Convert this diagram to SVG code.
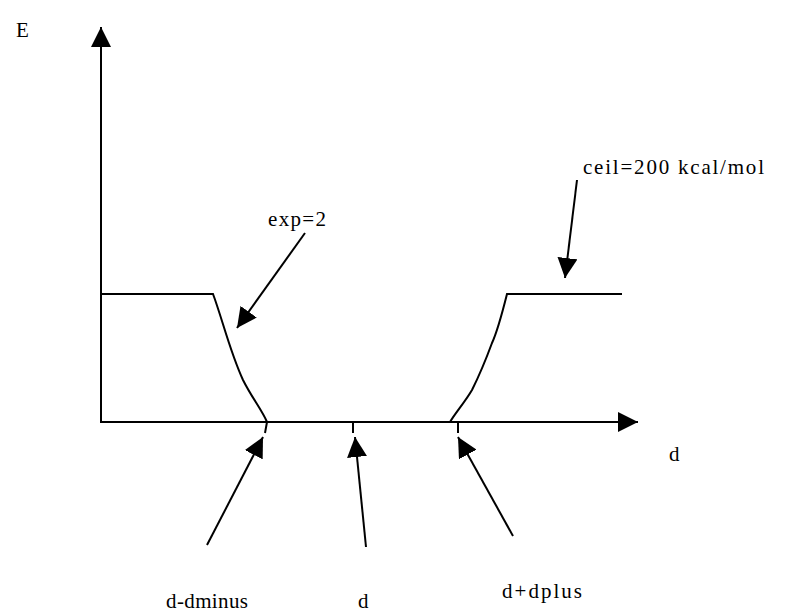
<svg xmlns="http://www.w3.org/2000/svg" width="794" height="612" viewBox="0 0 794 612">
<style>
.ln{stroke:#000;stroke-width:2;fill:none}
.t{font-family:"Liberation Serif","Times New Roman",serif;font-size:21px;fill:#000}
</style>
<defs>
<marker id="ah" viewBox="0 0 20 20" refX="20" refY="10" markerWidth="20" markerHeight="20" markerUnits="userSpaceOnUse" orient="auto">
<path d="M0,0 L20,10 L0,20 z" fill="#000"/>
</marker>
</defs>
<rect width="794" height="612" fill="#fff"/>
<g id="axes">
<line class="ln" x1="101" y1="422" x2="101" y2="27" marker-end="url(#ah)"/>
<line class="ln" x1="100" y1="422" x2="638" y2="422" marker-end="url(#ah)"/>
</g>
<g id="curve">
<path class="ln" d="M101,294 L213,294 C222,318 230,352 243,380 C252,398 262,410 267,422 L265,433"/>
<path class="ln" d="M622,294 L507,294 C503,310 498,330 492,343 C485,362 478,378 472,390 C465,402 456,412 450,422"/>
<line class="ln" x1="353" y1="422" x2="353" y2="433"/>
<line class="ln" x1="458" y1="422" x2="458" y2="433"/>
</g>
<g id="connectors">
<line class="ln" x1="305" y1="233" x2="237" y2="328" marker-end="url(#ah)"/>
<line class="ln" x1="577" y1="180" x2="565" y2="278" marker-end="url(#ah)"/>
<line class="ln" x1="207" y1="545" x2="263" y2="437" marker-end="url(#ah)"/>
<line class="ln" x1="366" y1="547" x2="355" y2="437" marker-end="url(#ah)"/>
<line class="ln" x1="513" y1="536" x2="458" y2="437" marker-end="url(#ah)"/>
</g>
<g id="label-E"><text class="t" x="16" y="37">E</text></g>
<g id="label-exp"><text class="t" x="268" y="226" textLength="58">exp=2</text></g>
<g id="label-ceil"><text class="t" x="583" y="174" textLength="181">ceil=200 kcal/mol</text></g>
<g id="label-d-axis"><text class="t" x="669" y="461">d</text></g>
<g id="label-dminus"><text class="t" x="166" y="608" textLength="82">d-dminus</text></g>
<g id="label-d"><text class="t" x="358" y="608">d</text></g>
<g id="label-dplus"><text class="t" x="502" y="598" textLength="80">d+dplus</text></g>
</svg>
